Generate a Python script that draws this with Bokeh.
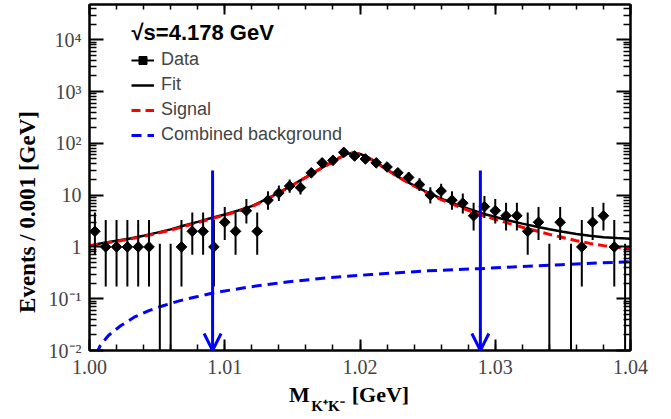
import math
from bokeh.plotting import figure
from bokeh.models import (Range1d, FixedTicker, LogAxis, LinearAxis, Label, Legend, LegendItem,
                          ColumnDataSource, Arrow, OpenHead, PrintfTickFormatter,
                          CustomJSTickFormatter)
from bokeh.embed import file_html
from bokeh.resources import INLINE

# ---------------- data ----------------
bin_start = 1.0
bin_width = 0.0008
counts = [2, 1, 1, 1, 1, 1, 0, 0, 1, 2,
          2, 1, 3, 2, 5, 2, 8, 11, 15, 14,
          27, 42, 47, 67, 57, 50, 42, 35, 27, 22,
          16, 10, 12, 8, 7, 4, 6, 5, 4, 4,
          2, 3, 0, 3, 0, 1, 3, 4, 1, 0]

curve_x = [1.000, 1.001, 1.002, 1.003, 1.004, 1.005, 1.006, 1.007, 1.008, 1.009,
           1.010, 1.011, 1.012, 1.013, 1.014, 1.015, 1.016, 1.017, 1.018, 1.0185,
           1.019, 1.0195, 1.020, 1.0205, 1.021, 1.022, 1.023, 1.024, 1.025, 1.026,
           1.027, 1.028, 1.029, 1.030, 1.031, 1.032, 1.033, 1.034, 1.035, 1.036,
           1.037, 1.038, 1.039, 1.040]
signal_y = [1.06, 1.17, 1.28, 1.42, 1.60, 1.82, 2.10, 2.50, 2.95, 3.50,
            4.10, 4.90, 6.00, 8.00, 11.0, 15.5, 22.0, 31.5, 44.0, 53.0,
            61.0, 66.0, 62.0, 55.0, 46.0, 31.0, 21.0, 15.0, 11.0, 8.2,
            6.4, 5.1, 4.1, 3.4, 2.85, 2.40, 2.05, 1.75, 1.52, 1.32,
            1.17, 1.06, 0.98, 0.92]
fit_y = [1.06, 1.19, 1.31, 1.46, 1.65, 1.89, 2.18, 2.59, 3.05, 3.61,
         4.22, 5.04, 6.14, 8.15, 11.2, 15.7, 22.2, 31.7, 44.2, 53.2,
         61.2, 66.2, 62.2, 55.3, 46.3, 31.3, 21.3, 15.3, 11.3, 8.55,
         6.75, 5.45, 4.48, 3.79, 3.25, 2.82, 2.48, 2.19, 1.97, 1.78,
         1.64, 1.54, 1.48, 1.44]

bkg_x = [1.0005, 1.0008, 1.0014, 1.0023, 1.0033, 1.0044, 1.0055, 1.0067, 1.0080,
         1.0092, 1.0117, 1.0146, 1.0176, 1.0208, 1.0250, 1.0288, 1.0320, 1.0349, 1.0375, 1.0400]
bkg_y = [0.0085, 0.0125, 0.0195, 0.030, 0.044, 0.059, 0.074, 0.092, 0.110,
         0.130, 0.167, 0.210, 0.253, 0.293, 0.345, 0.380, 0.420, 0.455, 0.488, 0.520]

arrow_x = [1.0091, 1.0289]
arrow_top = 30.0
arrow_bottom = 0.01

y_major = [0.01, 0.1, 1, 10, 100, 1000, 10000]
y_labels = ["10\u207b\u00b2", "10\u207b\u00b9", "1", "10", "10\u00b2", "10\u00b3", "10\u2074"]
x_major = [1.00, 1.01, 1.02, 1.03, 1.04]

y_title = "Events / 0.001 [GeV]"
x_title_main = ["M", "[GeV]"]
x_title_sub = ["K\u207aK\u207b"]

# ---------------- helpers ----------------
def pois_cdf(k, mu):
    if k < 0:
        return 0.0
    term = math.exp(-mu)
    s = term
    for i in range(1, k + 1):
        term *= mu / i
        s += term
    return s

def bisect(f, lo, hi):
    for _ in range(100):
        mid = 0.5 * (lo + hi)
        if f(lo) * f(mid) <= 0:
            hi = mid
        else:
            lo = mid
    return 0.5 * (lo + hi)

alpha = 0.158655
def pois_interval(n):
    if n == 0:
        return 0.0, -math.log(1 - 0.682689)
    hi = bisect(lambda m: pois_cdf(n, m) - alpha, 0.0, n + 20 + 10 * math.sqrt(n))
    lo = bisect(lambda m: (1 - pois_cdf(n - 1, m)) - alpha, 0.0, n + 5)
    return lo, hi

centers = [round(bin_start + bin_width * (i + 0.5), 5) for i in range(len(counts))]
err_lo, err_hi = [], []
for n in counts:
    lo, hi = pois_interval(n)
    err_lo.append(max(lo, 0.005))
    err_hi.append(hi)

pts = ColumnDataSource(dict(x=[c for c, n in zip(centers, counts) if n > 0],
                            y=[n for n in counts if n > 0]))
bars = ColumnDataSource(dict(x=centers, y0=err_lo, y1=err_hi))

# ---------------- figure ----------------
FIG_W, FIG_H = 669, 417
FRAME_L, FRAME_R, FRAME_B = 89, 630, 350
X0, X1 = 1.0, 1.04
p = figure(width=FIG_W, height=FIG_H, x_range=Range1d(X0, X1),
           y_range=Range1d(0.01, 48000), y_axis_type="log",
           output_backend="svg", toolbar_location=None,
           min_border_left=FRAME_L, min_border_right=FIG_W - FRAME_R, min_border_top=4,
           min_border_bottom=FIG_H - FRAME_B)
p.xgrid.visible = False
p.ygrid.visible = False
p.outline_line_color = "black"
p.outline_line_width = 2
p.background_fill_color = "white"
p.border_fill_color = "white"

def px_to_x(px):
    return X0 + (px - FRAME_L) / (FRAME_R - FRAME_L) * (X1 - X0)

y_minor = [m * 10.0 ** e for e in range(-2, 5) for m in range(2, 10)]
x_minor = [round(1.0 + 0.002 * k, 3) for k in range(21)]
overrides = {t: l for t, l in zip(y_major, y_labels)}

def style_axis(ax, maj, mnr, labels=True):
    ax.axis_line_width = 2
    ax.major_tick_in = maj
    ax.major_tick_out = 0
    ax.minor_tick_in = mnr
    ax.minor_tick_out = 0
    ax.major_tick_line_width = 2
    ax.minor_tick_line_width = 1.5
    if not labels:
        ax.formatter = CustomJSTickFormatter(code="return ''")
        ax.major_label_text_font_size = "1px"
        ax.major_label_standoff = 0

yax = p.yaxis[0]
yax.ticker = FixedTicker(ticks=y_major, minor_ticks=y_minor)
yax.major_label_overrides = overrides
yax.major_label_text_font = "Liberation Serif"
yax.major_label_text_font_size = "20px"
yax.major_label_standoff = 8
# trailing no-break spaces move the centred title towards the bottom, as in the reference
yax.axis_label = y_title + "\u00a0" * 12
yax.axis_label_text_font = "Liberation Serif"
yax.axis_label_text_font_style = "bold"
yax.axis_label_text_font_size = "23px"
yax.axis_label_text_color = "black"
yax.axis_label_standoff = 6
style_axis(yax, 14, 7)

xax = p.xaxis[0]
xax.ticker = FixedTicker(ticks=x_major, minor_ticks=x_minor)
xax.formatter = PrintfTickFormatter(format="%.2f")
xax.major_label_text_font = "Liberation Serif"
xax.major_label_text_font_size = "20px"
xax.major_label_standoff = 9
style_axis(xax, 11, 6)

rax = LogAxis(ticker=FixedTicker(ticks=y_major, minor_ticks=y_minor))
style_axis(rax, 14, 7, labels=False)
p.add_layout(rax, "right")
tax = LinearAxis(ticker=FixedTicker(ticks=x_major, minor_ticks=x_minor))
style_axis(tax, 10, 5, labels=False)
p.add_layout(tax, "above")

# x-axis title, set as tick labels of two bare axes below the main one
def title_axis(texts, centers_px, size, standoff):
    ticks = [px_to_x(c) for c in centers_px]
    ax = LinearAxis(ticker=FixedTicker(ticks=ticks, minor_ticks=[]),
                    major_label_overrides={t: s for t, s in zip(ticks, texts)},
                    axis_line_color=None, major_tick_line_color=None, minor_tick_line_color=None,
                    major_tick_in=0, major_tick_out=0, minor_tick_in=0, minor_tick_out=0,
                    major_label_standoff=standoff,
                    major_label_text_font="Liberation Serif",
                    major_label_text_font_style="bold",
                    major_label_text_font_size=size,
                    major_label_text_color="black")
    p.add_layout(ax, "below")

title_axis(x_title_main, [299, 380], "22px", 5)
title_axis(x_title_sub, [327.5], "15px", -12)

# ---------------- glyphs ----------------
r_fit = p.line(curve_x, fit_y, line_color="black", line_width=2.5)
r_sig = p.line(curve_x, signal_y, line_color="#ff0000", line_width=3, line_dash="9 5")
r_bkg = p.line(bkg_x, bkg_y, line_color="#0000ff", line_width=3, line_dash="10 6")

arrows = ColumnDataSource(dict(x0=arrow_x, x1=arrow_x,
                               y0=[arrow_top] * len(arrow_x), y1=[arrow_bottom] * len(arrow_x)))
p.add_layout(Arrow(source=arrows, x_start="x0", y_start="y0", x_end="x1", y_end="y1",
                   line_color="#0000ff", line_width=3,
                   end=OpenHead(size=17, line_color="#0000ff", line_width=3)))

r_err = p.segment(x0="x", y0="y0", x1="x", y1="y1", source=bars, line_color="black", line_width=2)
r_pts = p.scatter(x="x", y="y", source=pts, marker="square", angle=math.pi / 4, size=7.5,
                  fill_color="black", line_color="black")

legend = Legend(items=[LegendItem(label="Data", renderers=[r_err, r_pts]),
                       LegendItem(label="Fit", renderers=[r_fit]),
                       LegendItem(label="Signal", renderers=[r_sig]),
                       LegendItem(label="Combined background", renderers=[r_bkg])],
                location=(42, 205), padding=0, margin=0, spacing=4,
                glyph_width=23, glyph_height=20, label_height=20, label_standoff=7,
                label_text_font="Liberation Sans", label_text_font_size="18px",
                background_fill_alpha=0, border_line_alpha=0)
p.add_layout(legend)

# title inside the frame (screen units: from the frame's bottom-left corner)
p.add_layout(Label(x=131 - FRAME_L, y=FRAME_B - 32, x_units="screen", y_units="screen",
                   text="\u221as=4.178 GeV", text_font="Liberation Sans", text_font_size="22px",
                   text_font_style="bold", text_color="black", text_baseline="middle"))

open("out.html", "w").write(file_html(p, INLINE))
